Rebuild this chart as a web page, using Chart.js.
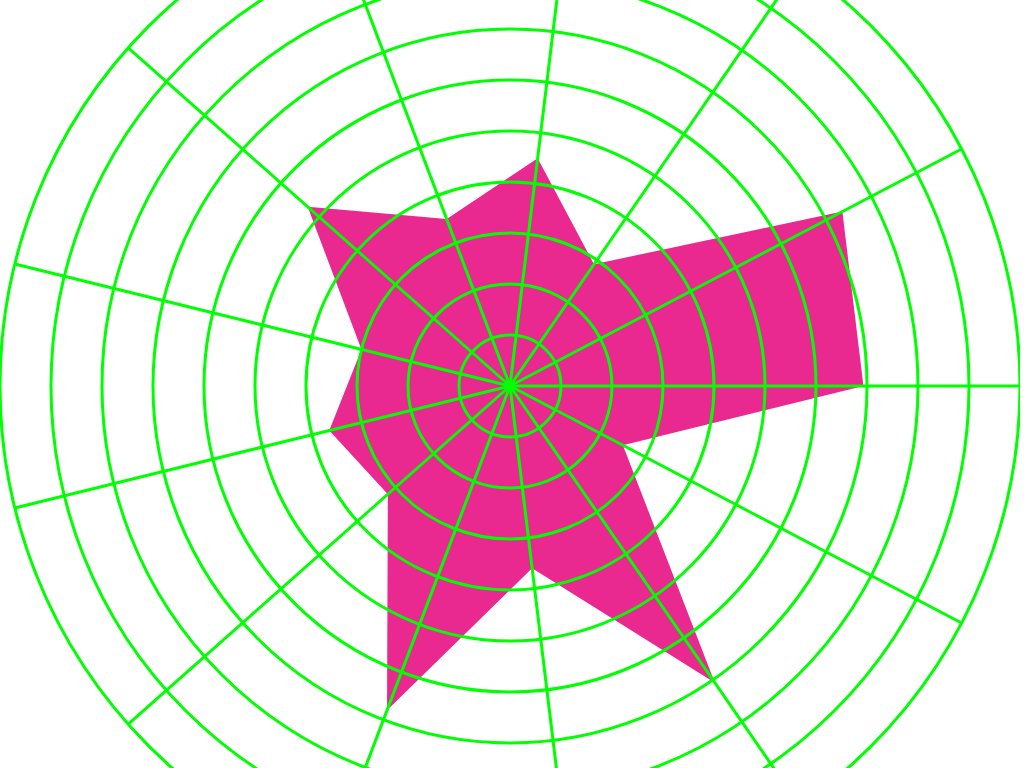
<!DOCTYPE html>
<html>
<head>
<meta charset="utf-8">
<title>Radar</title>
<script src="https://cdn.jsdelivr.net/npm/chart.js@4/dist/chart.umd.min.js"></script>
<style>
  html, body { margin: 0; padding: 0; background: #fff; overflow: hidden; width: 1024px; height: 768px; }
  #page { width: 1024px; height: 768px; position: relative; overflow: hidden; }
  /* the grid runs past the page edges in the reference */
  #wrap { width: 1020px; height: 1020px; position: absolute; left: 0; top: -124px; }
</style>
</head>
<body>
<div id="page"><div id="wrap"><canvas id="radarChart"></canvas></div></div>
<script>
const labels = ['1', '2', '3', '4', '5', '6', '7', '8', '9', '10', '11', '12', '13'];
const values = [69.3, 25, 70.7, 36, 68, 32, 36.5, 30, 53, 35, 45, 29, 73.6];
const scaleMin = 0;
const scaleMax = 100;
const scaleStep = 10;

document.addEventListener("DOMContentLoaded", () => {
  const ctx = document.getElementById("radarChart").getContext("2d");

  new Chart(ctx, {
    type: "radar",
    data: {
      labels: labels,
      datasets: [
        {
          data: values,
          fill: true,
          backgroundColor: "#e9298f",
          borderWidth: 0,
          pointRadius: 0,
          pointHoverRadius: 0,
        },
      ],
    },
    options: {
      responsive: true,
      maintainAspectRatio: false,
      animation: false,
      plugins: {
        legend: { display: false },
        tooltip: { enabled: false },
      },
      scales: {
        r: {
          min: scaleMin,
          max: scaleMax,
          startAngle: 90,
          ticks: { display: false, stepSize: scaleStep },
          pointLabels: { display: false },
          grid: { color: "#00ff00", lineWidth: 3, circular: true, z: 1 },
          angleLines: { color: "#00ff00", lineWidth: 3 },
        },
      },
    },
  });
});
</script>
</body>
</html>
